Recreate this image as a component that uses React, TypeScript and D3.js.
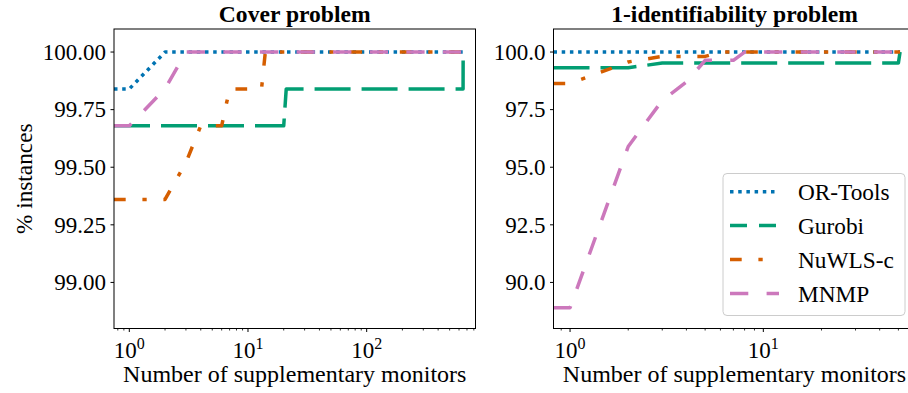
import React, { useEffect, useRef } from 'react';
import * as d3 from 'd3';

const seriesNames = ['OR-Tools', 'Gurobi', 'NuWLS-c', 'MNMP'];
const seriesColors = ['#0173B2', '#029E73', '#D55E00', '#CC78BC'];
const plotDashes = ['3.5,4.7', '36,11', '11.7,16.7,4.3,16.7', '18.3,18.3'];
const legendDashes = ['3.5,4.7', '17,12', '11.7,16.7,4.3,16.7', '18.3,18.3'];

// Cover problem (x = supplementary monitors, y = % instances)
const coverOrToolsX = [0, 1, 2, 650];
const coverOrToolsY = [99.84, 99.84, 100, 100];
const coverGurobiX = [0, 20, 21, 649, 650];
const coverGurobiY = [99.68, 99.68, 99.84, 99.84, 100];
const coverNuwlsX = [0, 2, 3, 4, 6, 7, 13, 14, 650];
const coverNuwlsY = [99.36, 99.36, 99.52, 99.68, 99.68, 99.84, 99.84, 100, 100];
const coverMnmpX = [0, 1, 2, 3, 650];
const coverMnmpY = [99.68, 99.68, 99.84, 100, 100];
const coverYTicks = [99.0, 99.25, 99.5, 99.75, 100.0];

// 1-identifiability problem
const identOrToolsX = [0, 51];
const identOrToolsY = [100, 100];
const identGurobiX = [0, 2, 3, 50, 51];
const identGurobiY = [99.32, 99.32, 99.52, 99.52, 100];
const identNuwlsX = [0, 1, 2, 3, 5, 6, 51];
const identNuwlsY = [98.63, 98.63, 99.57, 99.81, 99.81, 100, 100];
const identMnmpX = [0, 1, 2, 3, 4, 5, 7, 8, 51];
const identMnmpY = [88.9, 88.9, 95.9, 97.9, 98.7, 99.64, 99.64, 100, 100];
const identYTicks = [90.0, 92.5, 95.0, 97.5, 100.0];

const FONT = '"Liberation Serif", "Times New Roman", serif';

function zip(xs: number[], ys: number[]): [number, number][] {
  return xs.map((x, i) => [x, ys[i]]);
}

export default function App() {
  const ref = useRef<SVGSVGElement>(null);

  useEffect(() => {
    const svg = d3.select(ref.current);
    svg.selectAll('*').remove();

    const panels = [
      {
        id: 'cover',
        title: 'Cover problem',
        left: 114, right: 475.5,
        xDomain: [0.743, 826],
        yDomain: [98.8, 100.1],
        yTicks: coverYTicks,
        yFmt: d3.format('.2f'),
        series: [
          zip(coverOrToolsX, coverOrToolsY),
          zip(coverGurobiX, coverGurobiY),
          zip(coverNuwlsX, coverNuwlsY),
          zip(coverMnmpX, coverMnmpY),
        ],
        ylabel: true,
        legend: false,
      },
      {
        id: 'ident',
        title: '1-identifiability problem',
        left: 553.5, right: 915.5,
        xDomain: [0.821, 61.3],
        yDomain: [88, 101],
        yTicks: identYTicks,
        yFmt: d3.format('.1f'),
        series: [
          zip(identOrToolsX, identOrToolsY),
          zip(identGurobiX, identGurobiY),
          zip(identNuwlsX, identNuwlsY),
          zip(identMnmpX, identMnmpY),
        ],
        ylabel: false,
        legend: true,
      },
    ];

    const top = 29;
    const bottom = 328.5;

    panels.forEach((p) => {
      const x = d3.scaleLog().domain(p.xDomain).range([p.left, p.right]);
      const y = d3.scaleLinear().domain(p.yDomain).range([bottom, top]);
      const g = svg.append('g');
      const cx = (p.left + p.right) / 2;

      g.append('clipPath').attr('id', 'clip-' + p.id)
        .append('rect')
        .attr('x', p.left).attr('y', top)
        .attr('width', p.right - p.left).attr('height', bottom - top);

      // lines
      const line = d3.line<[number, number]>()
        .x((d) => x(Math.max(d[0], p.xDomain[0])))
        .y((d) => y(d[1]));

      const lg = g.append('g').attr('clip-path', 'url(#clip-' + p.id + ')');
      p.series.forEach((s, i) => {
        lg.append('path')
          .attr('d', line(s))
          .attr('fill', 'none')
          .attr('stroke', seriesColors[i])
          .attr('stroke-width', 3.5)
          .attr('stroke-dasharray', plotDashes[i])
          .attr('stroke-linejoin', 'round');
      });

      // frame
      g.append('rect')
        .attr('x', p.left).attr('y', top)
        .attr('width', p.right - p.left).attr('height', bottom - top)
        .attr('fill', 'none').attr('stroke', '#000').attr('stroke-width', 1);

      // y ticks
      p.yTicks.forEach((t) => {
        const yy = y(t);
        g.append('line').attr('x1', p.left - 3.5).attr('x2', p.left)
          .attr('y1', yy).attr('y2', yy).attr('stroke', '#000').attr('stroke-width', 1);
        g.append('text')
          .attr('x', p.left - 8).attr('y', yy + 7.8)
          .attr('text-anchor', 'end')
          .attr('font-family', FONT).attr('font-size', 23)
          .text(p.yFmt(t));
      });

      // x ticks (log)
      const [d0, d1] = p.xDomain;
      const majors = [0.1, 1, 10, 100, 1000].filter((v) => v >= d0 && v <= d1);
      const minors: number[] = [];
      [0.1, 1, 10, 100].forEach((dec) => {
        for (let k = 2; k <= 9; k++) {
          const v = k * dec;
          if (v >= d0 && v <= d1) minors.push(v);
        }
      });
      minors.forEach((v) => {
        g.append('line').attr('x1', x(v)).attr('x2', x(v))
          .attr('y1', bottom).attr('y2', bottom + 2)
          .attr('stroke', '#000').attr('stroke-width', 0.8);
      });
      majors.forEach((v) => {
        g.append('line').attr('x1', x(v)).attr('x2', x(v))
          .attr('y1', bottom).attr('y2', bottom + 3.5)
          .attr('stroke', '#000').attr('stroke-width', 1);
        const t = g.append('text')
          .attr('x', x(v)).attr('y', 357.5)
          .attr('text-anchor', 'middle')
          .attr('font-family', FONT).attr('font-size', 23);
        t.append('tspan').text('10');
        t.append('tspan').attr('font-size', 16).attr('dy', -9)
          .text(String(Math.round(Math.log10(v))));
      });

      // title + x label
      g.append('text')
        .attr('x', cx).attr('y', 21.5)
        .attr('text-anchor', 'middle')
        .attr('font-family', FONT).attr('font-size', 23.6).attr('font-weight', 'bold')
        .text(p.title);
      g.append('text')
        .attr('x', cx).attr('y', 381.5)
        .attr('text-anchor', 'middle')
        .attr('font-family', FONT).attr('font-size', 24)
        .text('Number of supplementary monitors');

      if (p.ylabel) {
        g.append('text')
          .attr('transform', 'translate(32,' + (top + bottom) / 2 + ') rotate(-90)')
          .attr('text-anchor', 'middle')
          .attr('font-family', FONT).attr('font-size', 23.3)
          .text('% instances');
      }

      if (p.legend) {
        const leg = g.append('g');
        leg.append('rect')
          .attr('x', 723).attr('y', 173.5)
          .attr('width', 182).attr('height', 142)
          .attr('rx', 4)
          .attr('fill', '#fff').attr('fill-opacity', 0.8)
          .attr('stroke', '#cccccc').attr('stroke-width', 1);
        seriesNames.forEach((name, i) => {
          const ly = 191.7 + i * 33.9;
          leg.append('line')
            .attr('x1', 730).attr('x2', 779)
            .attr('y1', ly).attr('y2', ly)
            .attr('stroke', seriesColors[i])
            .attr('stroke-width', 3.5)
            .attr('stroke-dasharray', legendDashes[i]);
          leg.append('text')
            .attr('x', 798).attr('y', ly + 8.2)
            .attr('font-family', FONT).attr('font-size', 23.3)
            .text(name);
        });
      }
    });
  }, []);

  return (
    <svg
      ref={ref}
      width={908}
      height={393}
      style={{ position: 'absolute', left: 0, top: 0, background: '#fff' }}
    />
  );
}
